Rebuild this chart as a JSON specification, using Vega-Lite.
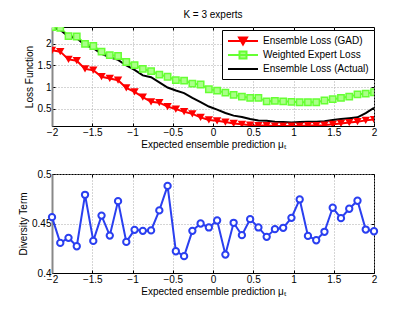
{
  "$schema": "https://vega.github.io/schema/vega-lite/v6.json",
  "padding": {"left": 18, "top": 9, "right": 5, "bottom": 5},
  "spacing": 18,
  "config": {
    "font": "Liberation Sans",
    "view": {"stroke": "black", "strokeWidth": 1},
    "axis": {
      "labelFont": "Liberation Sans", "labelFontSize": 10, "labelColor": "black",
      "titleFont": "Liberation Sans", "titleFontSize": 10, "titleFontWeight": "normal", "titleColor": "black",
      "tickColor": "black", "tickSize": -3, "domainColor": "black", "labelOverlap": false,
      "gridColor": "#aaaaaa", "gridDash": [1, 2], "labelPadding": 4, "labelFlush": false, "format": "~g"
    },
    "title": {"font": "Liberation Sans", "fontSize": 10, "fontWeight": "normal", "color": "black"},
    "legend": {
      "labelFont": "Liberation Sans", "labelFontSize": 10, "labelColor": "black",
      "symbolSize": 100, "symbolStrokeWidth": 2, "symbolOffset": 10, "labelOffset": 14, "symbolOpacity": 1,
      "padding": 5, "rowPadding": -2, "strokeColor": "black", "fillColor": "white", "cornerRadius": 0
    }
  },
  "datasets": {
    "top": [
      {"x": -2, "Ensemble Loss (GAD)": 1.85, "Weighted Expert Loss": 2.39, "Ensemble Loss (Actual)": 2.38},
      {"x": -1.8974, "Ensemble Loss (GAD)": 1.82, "Weighted Expert Loss": 2.37, "Ensemble Loss (Actual)": 2.32},
      {"x": -1.7949, "Ensemble Loss (GAD)": 1.64, "Weighted Expert Loss": 2.18, "Ensemble Loss (Actual)": 2.17},
      {"x": -1.6923, "Ensemble Loss (GAD)": 1.61, "Weighted Expert Loss": 2.17, "Ensemble Loss (Actual)": 2.13},
      {"x": -1.5897, "Ensemble Loss (GAD)": 1.42, "Weighted Expert Loss": 2.0, "Ensemble Loss (Actual)": 1.97},
      {"x": -1.4872, "Ensemble Loss (GAD)": 1.39, "Weighted Expert Loss": 1.95, "Ensemble Loss (Actual)": 1.9},
      {"x": -1.3846, "Ensemble Loss (GAD)": 1.24, "Weighted Expert Loss": 1.82, "Ensemble Loss (Actual)": 1.77},
      {"x": -1.2821, "Ensemble Loss (GAD)": 1.2, "Weighted Expert Loss": 1.74, "Ensemble Loss (Actual)": 1.69},
      {"x": -1.1795, "Ensemble Loss (GAD)": 1.16, "Weighted Expert Loss": 1.72, "Ensemble Loss (Actual)": 1.63},
      {"x": -1.0769, "Ensemble Loss (GAD)": 0.98, "Weighted Expert Loss": 1.58, "Ensemble Loss (Actual)": 1.5},
      {"x": -0.9744, "Ensemble Loss (GAD)": 0.89, "Weighted Expert Loss": 1.51, "Ensemble Loss (Actual)": 1.4},
      {"x": -0.8718, "Ensemble Loss (GAD)": 0.77, "Weighted Expert Loss": 1.42, "Ensemble Loss (Actual)": 1.27},
      {"x": -0.7692, "Ensemble Loss (GAD)": 0.66, "Weighted Expert Loss": 1.37, "Ensemble Loss (Actual)": 1.23},
      {"x": -0.6667, "Ensemble Loss (GAD)": 0.64, "Weighted Expert Loss": 1.29, "Ensemble Loss (Actual)": 1.11},
      {"x": -0.5641, "Ensemble Loss (GAD)": 0.55, "Weighted Expert Loss": 1.24, "Ensemble Loss (Actual)": 0.99},
      {"x": -0.4615, "Ensemble Loss (GAD)": 0.49, "Weighted Expert Loss": 1.16, "Ensemble Loss (Actual)": 0.92},
      {"x": -0.359, "Ensemble Loss (GAD)": 0.43, "Weighted Expert Loss": 1.15, "Ensemble Loss (Actual)": 0.86},
      {"x": -0.2564, "Ensemble Loss (GAD)": 0.38, "Weighted Expert Loss": 1.08, "Ensemble Loss (Actual)": 0.75},
      {"x": -0.1538, "Ensemble Loss (GAD)": 0.3, "Weighted Expert Loss": 1.06, "Ensemble Loss (Actual)": 0.65},
      {"x": -0.0513, "Ensemble Loss (GAD)": 0.24, "Weighted Expert Loss": 0.95, "Ensemble Loss (Actual)": 0.55},
      {"x": 0.0513, "Ensemble Loss (GAD)": 0.22, "Weighted Expert Loss": 0.92, "Ensemble Loss (Actual)": 0.48},
      {"x": 0.1538, "Ensemble Loss (GAD)": 0.19, "Weighted Expert Loss": 0.87, "Ensemble Loss (Actual)": 0.4},
      {"x": 0.2564, "Ensemble Loss (GAD)": 0.16, "Weighted Expert Loss": 0.82, "Ensemble Loss (Actual)": 0.34},
      {"x": 0.359, "Ensemble Loss (GAD)": 0.14, "Weighted Expert Loss": 0.78, "Ensemble Loss (Actual)": 0.31},
      {"x": 0.4615, "Ensemble Loss (GAD)": 0.12, "Weighted Expert Loss": 0.75, "Ensemble Loss (Actual)": 0.26},
      {"x": 0.5641, "Ensemble Loss (GAD)": 0.11, "Weighted Expert Loss": 0.75, "Ensemble Loss (Actual)": 0.23},
      {"x": 0.6667, "Ensemble Loss (GAD)": 0.11, "Weighted Expert Loss": 0.67, "Ensemble Loss (Actual)": 0.22},
      {"x": 0.7692, "Ensemble Loss (GAD)": 0.1, "Weighted Expert Loss": 0.68, "Ensemble Loss (Actual)": 0.2},
      {"x": 0.8718, "Ensemble Loss (GAD)": 0.1, "Weighted Expert Loss": 0.67, "Ensemble Loss (Actual)": 0.19},
      {"x": 0.9744, "Ensemble Loss (GAD)": 0.1, "Weighted Expert Loss": 0.66, "Ensemble Loss (Actual)": 0.18},
      {"x": 1.0769, "Ensemble Loss (GAD)": 0.1, "Weighted Expert Loss": 0.65, "Ensemble Loss (Actual)": 0.19},
      {"x": 1.1795, "Ensemble Loss (GAD)": 0.11, "Weighted Expert Loss": 0.65, "Ensemble Loss (Actual)": 0.2},
      {"x": 1.2821, "Ensemble Loss (GAD)": 0.11, "Weighted Expert Loss": 0.65, "Ensemble Loss (Actual)": 0.2},
      {"x": 1.3846, "Ensemble Loss (GAD)": 0.12, "Weighted Expert Loss": 0.69, "Ensemble Loss (Actual)": 0.21},
      {"x": 1.4872, "Ensemble Loss (GAD)": 0.14, "Weighted Expert Loss": 0.72, "Ensemble Loss (Actual)": 0.24},
      {"x": 1.5897, "Ensemble Loss (GAD)": 0.16, "Weighted Expert Loss": 0.75, "Ensemble Loss (Actual)": 0.26},
      {"x": 1.6923, "Ensemble Loss (GAD)": 0.18, "Weighted Expert Loss": 0.78, "Ensemble Loss (Actual)": 0.28},
      {"x": 1.7949, "Ensemble Loss (GAD)": 0.2, "Weighted Expert Loss": 0.83, "Ensemble Loss (Actual)": 0.3},
      {"x": 1.8974, "Ensemble Loss (GAD)": 0.23, "Weighted Expert Loss": 0.85, "Ensemble Loss (Actual)": 0.4},
      {"x": 2, "Ensemble Loss (GAD)": 0.25, "Weighted Expert Loss": 0.88, "Ensemble Loss (Actual)": 0.52}
    ],
    "bottom": [
      {"x": -2, "d": 0.4564}, {"x": -1.8974, "d": 0.4304}, {"x": -1.7949, "d": 0.4355}, {"x": -1.6923, "d": 0.427},
      {"x": -1.5897, "d": 0.479}, {"x": -1.4872, "d": 0.4324}, {"x": -1.3846, "d": 0.458}, {"x": -1.2821, "d": 0.4378},
      {"x": -1.1795, "d": 0.4726}, {"x": -1.0769, "d": 0.4314}, {"x": -0.9744, "d": 0.4436}, {"x": -0.8718, "d": 0.4426},
      {"x": -0.7692, "d": 0.443}, {"x": -0.6667, "d": 0.4632}, {"x": -0.5641, "d": 0.488}, {"x": -0.4615, "d": 0.422},
      {"x": -0.359, "d": 0.417}, {"x": -0.2564, "d": 0.4426}, {"x": -0.1538, "d": 0.45}, {"x": -0.0513, "d": 0.446},
      {"x": 0.0513, "d": 0.453}, {"x": 0.1538, "d": 0.4186}, {"x": 0.2564, "d": 0.4507}, {"x": 0.359, "d": 0.4382},
      {"x": 0.4615, "d": 0.4544}, {"x": 0.5641, "d": 0.446}, {"x": 0.6667, "d": 0.4365}, {"x": 0.7692, "d": 0.4443},
      {"x": 0.8718, "d": 0.4456}, {"x": 0.9744, "d": 0.4557}, {"x": 1.0769, "d": 0.4743}, {"x": 1.1795, "d": 0.4375},
      {"x": 1.2821, "d": 0.4331}, {"x": 1.3846, "d": 0.4416}, {"x": 1.4872, "d": 0.4659}, {"x": 1.5897, "d": 0.4554},
      {"x": 1.6923, "d": 0.4649}, {"x": 1.7949, "d": 0.473}, {"x": 1.8974, "d": 0.4439}, {"x": 2, "d": 0.4422}
    ]
  },
  "vconcat": [
    {
      "title": {"text": "K = 3 experts", "anchor": "middle", "offset": 5},
      "width": 322,
      "height": 99,
      "resolve": {"axis": {"x": "independent", "y": "independent"}},
      "layer": [
        {
          "data": {"name": "top"},
          "transform": [{"fold": ["Ensemble Loss (GAD)", "Weighted Expert Loss", "Ensemble Loss (Actual)"], "as": ["series", "y"]}],
          "mark": {"type": "line", "strokeWidth": 2, "clip": true},
          "encoding": {
            "x": {"field": "x", "type": "quantitative", "scale": {"domain": [-2, 2], "nice": false},
                  "axis": {"values": [-2, -1.5, -1, -0.5, 0, 0.5, 1, 1.5, 2], "grid": true, "title": "Expected ensemble prediction μₜ", "titlePadding": 2}},
            "y": {"field": "y", "type": "quantitative", "scale": {"domain": [0.1, 2.39], "nice": false, "zero": false},
                  "axis": {"values": [0.5, 1, 1.5, 2], "grid": true, "title": "Loss Function", "titlePadding": 3, "domainColor": "#888888", "domainWidth": 2}},
            "color": {"field": "series", "type": "nominal",
                      "scale": {"domain": ["Ensemble Loss (Actual)", "Ensemble Loss (GAD)", "Weighted Expert Loss"], "range": ["#000000", "#ff0000", "#66ff33"]},
                      "legend": null},
            "order": {"field": "x", "type": "quantitative"}
          }
        },
        {
          "data": {"name": "top"},
          "mark": {"type": "point", "shape": "triangle-down", "filled": true, "color": "#ff0000", "size": 70, "opacity": 1, "clip": true},
          "encoding": {
            "x": {"field": "x", "type": "quantitative", "axis": null},
            "y": {"field": "Ensemble Loss (GAD)", "type": "quantitative", "axis": null}
          }
        },
        {
          "data": {"name": "top"},
          "mark": {"type": "point", "shape": "square", "filled": false, "stroke": "#66ff33", "fill": "#aaff88", "fillOpacity": 1, "strokeWidth": 1.5, "size": 40, "opacity": 1, "clip": true},
          "encoding": {
            "x": {"field": "x", "type": "quantitative", "axis": null},
            "y": {"field": "Weighted Expert Loss", "type": "quantitative", "axis": null}
          }
        },
        {
          "data": {"name": "top"},
          "transform": [{"fold": ["Ensemble Loss (GAD)", "Weighted Expert Loss", "Ensemble Loss (Actual)"], "as": ["series", "y"]}],
          "mark": {"type": "point", "opacity": 0, "filled": true},
          "encoding": {
            "x": {"field": "x", "type": "quantitative",
                  "axis": {"orient": "top", "values": [-2, -1.5, -1, -0.5, 0, 0.5, 1, 1.5, 2], "labels": false, "title": null, "grid": false, "domain": false}},
            "y": {"field": "y", "type": "quantitative",
                  "axis": {"orient": "right", "values": [0.5, 1, 1.5, 2], "labels": false, "title": null, "grid": false, "domain": false}},
            "shape": {"field": "series", "type": "nominal",
                      "scale": {"domain": ["Ensemble Loss (GAD)", "Weighted Expert Loss", "Ensemble Loss (Actual)"],
                                "range": ["M-3,0H3M-0.8,-0.7H0.8L0,0.7Z", "M-3,0H3M-0.7,-0.7H0.7V0.7H-0.7Z", "M-3,0H3"]},
                      "legend": {"orient": "none", "legendX": 170, "legendY": 3, "title": null}},
            "fill": {"field": "series", "type": "nominal",
                     "scale": {"domain": ["Ensemble Loss (GAD)", "Weighted Expert Loss", "Ensemble Loss (Actual)"], "range": ["#ff0000", "#aaff88", "#000000"]},
                     "legend": {"orient": "none", "legendX": 170, "legendY": 3, "title": null}},
            "stroke": {"field": "series", "type": "nominal",
                       "scale": {"domain": ["Ensemble Loss (GAD)", "Weighted Expert Loss", "Ensemble Loss (Actual)"], "range": ["#ff0000", "#66ff33", "#000000"]},
                       "legend": {"orient": "none", "legendX": 170, "legendY": 3, "title": null}}
          }
        }
      ]
    },
    {
      "width": 322,
      "height": 99,
      "data": {"name": "bottom"},
      "resolve": {"axis": {"x": "independent", "y": "independent"}},
      "layer": [
        {
          "mark": {"type": "line", "strokeWidth": 2, "color": "#2a3ff0"},
          "encoding": {
            "x": {"field": "x", "type": "quantitative", "scale": {"domain": [-2, 2], "nice": false},
                  "axis": {"values": [-2, -1.5, -1, -0.5, 0, 0.5, 1, 1.5, 2], "grid": true, "title": "Expected ensemble prediction μₜ", "titlePadding": 2}},
            "y": {"field": "d", "type": "quantitative", "scale": {"domain": [0.4, 0.5], "nice": false, "zero": false},
                  "axis": {"values": [0.4, 0.45, 0.5], "grid": true, "title": "Diversity Term", "titlePadding": 3, "domainColor": "#888888", "domainWidth": 2}}
          }
        },
        {
          "mark": {"type": "point", "shape": "circle", "filled": false, "stroke": "#2a3ff0", "fill": "white", "fillOpacity": 1, "strokeWidth": 2, "size": 40, "opacity": 1},
          "encoding": {
            "x": {"field": "x", "type": "quantitative",
                  "axis": {"orient": "top", "values": [-2, -1.5, -1, -0.5, 0, 0.5, 1, 1.5, 2], "labels": false, "title": null, "grid": false, "domain": false}},
            "y": {"field": "d", "type": "quantitative",
                  "axis": {"orient": "right", "values": [0.4, 0.45, 0.5], "labels": false, "title": null, "grid": false, "domain": false}}
          }
        }
      ]
    }
  ]
}
